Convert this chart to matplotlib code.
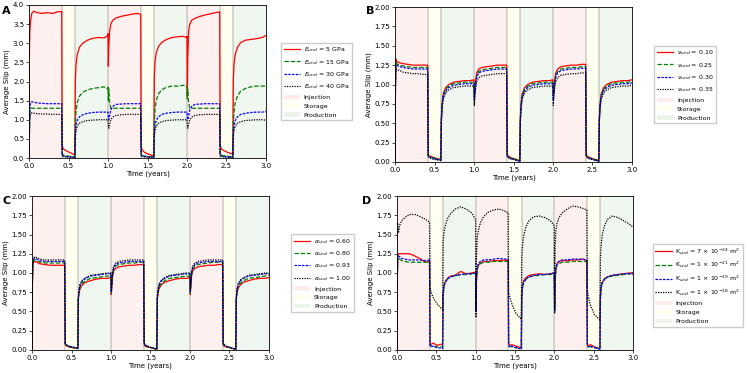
#!/usr/bin/env python3
"""
四个参数敏感性面板：平均滑移随时间变化
"""

import matplotlib
matplotlib.use("Agg")
import matplotlib.pyplot as plt
from matplotlib.patches import Patch

# 时间采样点 (years)
t = [0.000, 0.004, 0.010, 0.020, 0.035, 0.060, 0.100, 0.160, 0.230, 0.300, 0.360, 0.414,
     0.420, 0.430, 0.460, 0.510, 0.580,
     0.586, 0.595, 0.610, 0.640, 0.680, 0.740, 0.810, 0.880, 0.950, 0.996,
     1.000, 1.004, 1.010, 1.020, 1.035, 1.060, 1.100, 1.160, 1.230, 1.300, 1.360, 1.414,
     1.420, 1.430, 1.460, 1.510, 1.580,
     1.586, 1.595, 1.610, 1.640, 1.680, 1.740, 1.810, 1.880, 1.950, 1.996,
     2.000, 2.004, 2.010, 2.020, 2.035, 2.060, 2.100, 2.160, 2.230, 2.300, 2.360, 2.414,
     2.420, 2.430, 2.460, 2.510, 2.580,
     2.586, 2.595, 2.610, 2.640, 2.680, 2.740, 2.810, 2.880, 2.950, 2.996,
     3.000]

# 阶段边界
injection = [(0.0, 0.4167), (1.0, 1.4167), (2.0, 2.4167)]
storage = [(0.4167, 0.5833), (1.4167, 1.5833), (2.4167, 2.5833)]
production = [(0.5833, 1.0), (1.5833, 2.0), (2.5833, 3.0)]
boundaries = [0.4167, 0.5833, 1.0, 1.4167, 1.5833, 2.0, 2.4167, 2.5833]

# A: E_und
e5 = [0.0, 2.6, 3.3, 3.6, 3.78, 3.84, 3.80, 3.78, 3.80, 3.78, 3.82, 3.83,
      0.35, 0.25, 0.20, 0.15, 0.08,
      2.0, 2.45, 2.7, 2.9, 3.0, 3.08, 3.13, 3.15, 3.14, 3.2,
      3.25, 2.4, 2.9, 3.3, 3.5, 3.6, 3.66, 3.7, 3.73, 3.76, 3.78, 3.76,
      0.3, 0.22, 0.15, 0.1, 0.05,
      2.1, 2.5, 2.75, 2.92, 3.02, 3.1, 3.15, 3.17, 3.18, 3.15,
      3.18, 1.6, 2.6, 3.3, 3.5, 3.6, 3.65, 3.7, 3.74, 3.77, 3.8, 3.82,
      0.35, 0.25, 0.2, 0.15, 0.1,
      2.0, 2.45, 2.7, 2.9, 3.02, 3.08, 3.1, 3.12, 3.15, 3.2,
      3.2]
e15 = [0.0, 0.6, 1.2, 1.3, 1.3, 1.3, 1.3, 1.3, 1.3, 1.3, 1.3, 1.3,
       0.12, 0.08, 0.06, 0.05, 0.03,
       0.9, 1.2, 1.45, 1.62, 1.72, 1.78, 1.82, 1.84, 1.86, 1.8,
       1.85, 1.5, 1.8, 1.45, 1.3, 1.3, 1.3, 1.3, 1.3, 1.3, 1.3, 1.3,
       0.1, 0.07, 0.05, 0.04, 0.02,
       0.9, 1.25, 1.5, 1.68, 1.78, 1.85, 1.88, 1.88, 1.9, 1.88,
       1.85, 1.55, 1.8, 1.45, 1.3, 1.3, 1.3, 1.3, 1.3, 1.3, 1.3, 1.3,
       0.12, 0.08, 0.06, 0.05, 0.03,
       0.9, 1.2, 1.45, 1.62, 1.75, 1.82, 1.86, 1.88, 1.88, 1.88,
       1.88]
e30 = [0.0, 0.6, 1.3, 1.45, 1.47, 1.46, 1.44, 1.43, 1.42, 1.42, 1.42, 1.42,
       0.08, 0.06, 0.04, 0.03, 0.02,
       0.65, 0.85, 0.98, 1.08, 1.13, 1.17, 1.19, 1.2, 1.2, 1.2,
       1.2, 1.05, 1.0, 1.1, 1.25, 1.35, 1.4, 1.41, 1.42, 1.42, 1.42, 1.42,
       0.08, 0.06, 0.04, 0.03, 0.01,
       0.65, 0.85, 0.98, 1.08, 1.14, 1.17, 1.19, 1.2, 1.2, 1.2,
       1.2, 1.05, 1.0, 1.1, 1.25, 1.35, 1.4, 1.41, 1.42, 1.42, 1.42, 1.42,
       0.08, 0.06, 0.04, 0.03, 0.02,
       0.65, 0.85, 0.98, 1.08, 1.14, 1.17, 1.19, 1.2, 1.2, 1.21,
       1.21]
e40 = [0.0, 0.5, 1.05, 1.15, 1.18, 1.17, 1.16, 1.15, 1.15, 1.14, 1.14, 1.14,
       0.06, 0.04, 0.03, 0.02, 0.01,
       0.55, 0.72, 0.83, 0.91, 0.95, 0.98, 0.99, 1.0, 1.0, 1.0,
       1.0, 0.85, 0.78, 0.88, 1.0, 1.07, 1.11, 1.13, 1.14, 1.14, 1.14, 1.14,
       0.06, 0.04, 0.03, 0.02, 0.01,
       0.55, 0.72, 0.83, 0.91, 0.95, 0.98, 0.99, 1.0, 1.0, 1.0,
       1.0, 0.85, 0.78, 0.88, 1.0, 1.07, 1.11, 1.13, 1.14, 1.14, 1.14, 1.14,
       0.06, 0.04, 0.03, 0.02, 0.01,
       0.55, 0.72, 0.83, 0.91, 0.95, 0.98, 0.99, 1.0, 1.0, 0.99,
       0.99]

# B: nu_und
nu10 = [0.0, 0.9, 1.33, 1.3, 1.29, 1.28, 1.27, 1.26, 1.25, 1.25, 1.25, 1.25,
        0.1, 0.08, 0.07, 0.05, 0.03,
        0.55, 0.75, 0.88, 0.96, 1.0, 1.03, 1.04, 1.05, 1.05, 1.06,
        1.06, 0.88, 0.92, 1.05, 1.15, 1.2, 1.22, 1.23, 1.24, 1.25, 1.25, 1.25,
        0.1, 0.08, 0.06, 0.04, 0.02,
        0.55, 0.75, 0.88, 0.96, 1.0, 1.03, 1.04, 1.05, 1.05, 1.06,
        1.06, 0.86, 0.92, 1.05, 1.15, 1.2, 1.23, 1.24, 1.25, 1.25, 1.26, 1.26,
        0.1, 0.08, 0.06, 0.04, 0.02,
        0.55, 0.75, 0.88, 0.96, 1.0, 1.03, 1.04, 1.05, 1.05, 1.06,
        1.06]
nu25 = [0.0, 0.88, 1.29, 1.27, 1.26, 1.25, 1.24, 1.23, 1.22, 1.22, 1.22, 1.22,
        0.09, 0.08, 0.06, 0.05, 0.03,
        0.53, 0.73, 0.86, 0.94, 0.98, 1.01, 1.02, 1.03, 1.03, 1.03,
        1.03, 0.84, 0.9, 1.02, 1.12, 1.17, 1.19, 1.2, 1.21, 1.22, 1.22, 1.22,
        0.09, 0.07, 0.05, 0.04, 0.02,
        0.53, 0.73, 0.86, 0.94, 0.98, 1.01, 1.02, 1.03, 1.03, 1.03,
        1.03, 0.82, 0.9, 1.02, 1.12, 1.17, 1.2, 1.21, 1.22, 1.22, 1.23, 1.23,
        0.09, 0.07, 0.05, 0.04, 0.02,
        0.53, 0.73, 0.86, 0.94, 0.98, 1.01, 1.02, 1.03, 1.03, 1.04,
        1.04]
nu30 = [0.0, 0.85, 1.25, 1.25, 1.24, 1.23, 1.22, 1.21, 1.2, 1.2, 1.2, 1.2,
        0.08, 0.07, 0.05, 0.04, 0.02,
        0.52, 0.71, 0.84, 0.92, 0.96, 0.99, 1.0, 1.01, 1.01, 1.01,
        1.01, 0.8, 0.87, 1.0, 1.1, 1.15, 1.17, 1.18, 1.19, 1.2, 1.2, 1.2,
        0.08, 0.06, 0.05, 0.03, 0.01,
        0.52, 0.71, 0.84, 0.92, 0.96, 0.99, 1.0, 1.01, 1.01, 1.01,
        1.01, 0.79, 0.87, 1.0, 1.1, 1.15, 1.18, 1.19, 1.2, 1.2, 1.21, 1.21,
        0.08, 0.06, 0.05, 0.03, 0.01,
        0.52, 0.71, 0.84, 0.92, 0.96, 0.99, 1.0, 1.01, 1.01, 1.02,
        1.02]
nu35 = [0.0, 0.8, 1.19, 1.2, 1.19, 1.18, 1.16, 1.15, 1.14, 1.14, 1.13, 1.13,
        0.07, 0.06, 0.04, 0.03, 0.02,
        0.5, 0.68, 0.81, 0.89, 0.93, 0.96, 0.97, 0.98, 0.98, 0.98,
        0.98, 0.73, 0.82, 0.95, 1.04, 1.09, 1.11, 1.12, 1.13, 1.14, 1.14, 1.14,
        0.07, 0.06, 0.04, 0.03, 0.01,
        0.5, 0.68, 0.81, 0.89, 0.93, 0.96, 0.97, 0.98, 0.98, 0.98,
        0.98, 0.73, 0.82, 0.95, 1.04, 1.09, 1.12, 1.13, 1.14, 1.14, 1.15, 1.15,
        0.07, 0.06, 0.04, 0.03, 0.01,
        0.5, 0.68, 0.81, 0.89, 0.93, 0.96, 0.97, 0.98, 0.98, 0.99,
        0.99]

# C: alpha_und
a60 = [0.0, 0.8, 1.1, 1.14, 1.15, 1.14, 1.12, 1.11, 1.1, 1.1, 1.1, 1.1,
       0.07, 0.06, 0.04, 0.03, 0.02,
       0.65, 0.74, 0.8, 0.85, 0.88, 0.9, 0.92, 0.93, 0.93, 0.94,
       0.94, 0.72, 0.82, 0.96, 1.03, 1.06, 1.08, 1.09, 1.1, 1.1, 1.11, 1.11,
       0.07, 0.05, 0.04, 0.03, 0.01,
       0.65, 0.74, 0.8, 0.85, 0.88, 0.9, 0.92, 0.93, 0.93, 0.94,
       0.94, 0.72, 0.82, 0.96, 1.03, 1.06, 1.08, 1.09, 1.1, 1.1, 1.11, 1.11,
       0.07, 0.05, 0.04, 0.03, 0.01,
       0.65, 0.74, 0.8, 0.85, 0.88, 0.9, 0.92, 0.93, 0.93, 0.94,
       0.94]
a80 = [0.0, 0.82, 1.12, 1.16, 1.17, 1.16, 1.14, 1.13, 1.13, 1.13, 1.13, 1.13,
       0.08, 0.06, 0.05, 0.03, 0.02,
       0.66, 0.76, 0.82, 0.87, 0.9, 0.93, 0.94, 0.95, 0.96, 0.96,
       0.96, 0.74, 0.84, 0.98, 1.05, 1.09, 1.11, 1.12, 1.13, 1.13, 1.14, 1.14,
       0.08, 0.06, 0.04, 0.03, 0.01,
       0.66, 0.76, 0.82, 0.87, 0.9, 0.93, 0.94, 0.95, 0.96, 0.96,
       0.96, 0.74, 0.84, 0.98, 1.05, 1.09, 1.11, 1.12, 1.13, 1.14, 1.14, 1.14,
       0.08, 0.06, 0.04, 0.03, 0.01,
       0.66, 0.76, 0.82, 0.87, 0.9, 0.93, 0.94, 0.95, 0.96, 0.97,
       0.97]
a93 = [0.0, 0.84, 1.14, 1.18, 1.19, 1.18, 1.16, 1.15, 1.15, 1.15, 1.15, 1.15,
       0.09, 0.07, 0.05, 0.04, 0.02,
       0.67, 0.78, 0.85, 0.9, 0.93, 0.96, 0.97, 0.98, 0.99, 0.99,
       0.99, 0.76, 0.86, 1.0, 1.07, 1.11, 1.13, 1.14, 1.15, 1.15, 1.15, 1.15,
       0.09, 0.07, 0.05, 0.03, 0.01,
       0.67, 0.78, 0.85, 0.9, 0.93, 0.96, 0.97, 0.98, 0.99, 0.99,
       0.99, 0.76, 0.86, 1.0, 1.07, 1.11, 1.13, 1.14, 1.15, 1.15, 1.15, 1.15,
       0.09, 0.07, 0.05, 0.03, 0.01,
       0.67, 0.78, 0.85, 0.9, 0.93, 0.96, 0.97, 0.98, 0.99, 0.99,
       0.99]
a100 = [0.0, 0.86, 1.16, 1.2, 1.21, 1.2, 1.18, 1.17, 1.17, 1.17, 1.17, 1.17,
        0.09, 0.07, 0.05, 0.04, 0.02,
        0.68, 0.79, 0.86, 0.91, 0.94, 0.97, 0.98, 0.99, 1.0, 1.0,
        1.0, 0.78, 0.88, 1.02, 1.09, 1.13, 1.15, 1.16, 1.17, 1.17, 1.17, 1.17,
        0.09, 0.07, 0.05, 0.03, 0.01,
        0.68, 0.79, 0.86, 0.91, 0.94, 0.97, 0.98, 0.99, 1.0, 1.0,
        1.0, 0.78, 0.88, 1.02, 1.09, 1.13, 1.15, 1.16, 1.17, 1.17, 1.17, 1.17,
        0.09, 0.07, 0.05, 0.03, 0.01,
        0.68, 0.79, 0.86, 0.91, 0.94, 0.97, 0.98, 0.99, 1.0, 1.0,
        1.0]

# D: K_und
k24 = [0.0, 0.9, 1.22, 1.25, 1.25, 1.25, 1.25, 1.25, 1.22, 1.18, 1.14, 1.15,
       0.1, 0.07, 0.09, 0.06, 0.08,
       0.7, 0.82, 0.88, 0.93, 0.96, 0.97, 1.02, 0.99, 1.0, 1.01,
       1.0, 0.55, 0.9, 1.05, 1.1, 1.13, 1.15, 1.15, 1.16, 1.16, 1.17, 1.16,
       0.08, 0.06, 0.07, 0.05, 0.03,
       0.7, 0.82, 0.9, 0.94, 0.97, 0.98, 0.99, 0.98, 0.99, 1.0,
       1.0, 0.55, 0.9, 1.05, 1.12, 1.15, 1.16, 1.16, 1.17, 1.17, 1.18, 1.16,
       0.08, 0.05, 0.07, 0.04, 0.02,
       0.7, 0.82, 0.88, 0.93, 0.95, 0.97, 0.98, 0.99, 1.0, 1.0,
       0.98]
k21 = [0.0, 0.9, 1.18, 1.2, 1.18, 1.16, 1.15, 1.14, 1.14, 1.14, 1.14, 1.14,
       0.06, 0.05, 0.05, 0.04, 0.04,
       0.68, 0.82, 0.88, 0.92, 0.95, 0.96, 0.98, 0.98, 0.99, 1.0,
       1.0, 0.5, 0.9, 1.05, 1.1, 1.12, 1.14, 1.14, 1.15, 1.15, 1.15, 1.15,
       0.06, 0.05, 0.04, 0.03, 0.02,
       0.68, 0.82, 0.88, 0.92, 0.95, 0.96, 0.97, 0.98, 0.98, 0.99,
       0.99, 0.5, 0.9, 1.05, 1.1, 1.12, 1.14, 1.14, 1.15, 1.15, 1.15, 1.15,
       0.06, 0.05, 0.04, 0.03, 0.02,
       0.68, 0.82, 0.88, 0.92, 0.95, 0.96, 0.97, 0.98, 0.99, 0.99,
       0.99]
k19 = [0.0, 0.9, 1.2, 1.22, 1.21, 1.19, 1.18, 1.17, 1.17, 1.17, 1.16, 1.17,
       0.07, 0.04, 0.05, 0.03, 0.02,
       0.65, 0.8, 0.87, 0.92, 0.95, 0.97, 0.98, 0.99, 0.99, 1.0,
       1.0, 0.5, 0.9, 1.06, 1.12, 1.15, 1.17, 1.17, 1.18, 1.19, 1.18, 1.18,
       0.07, 0.04, 0.05, 0.03, 0.01,
       0.65, 0.8, 0.87, 0.92, 0.95, 0.97, 0.98, 0.98, 0.99, 1.0,
       1.0, 0.5, 0.9, 1.06, 1.12, 1.15, 1.17, 1.17, 1.18, 1.18, 1.18, 1.17,
       0.07, 0.04, 0.05, 0.03, 0.01,
       0.65, 0.8, 0.87, 0.92, 0.95, 0.97, 0.98, 0.99, 0.99, 1.0,
       1.0]
k18 = [0.0, 1.6, 1.65, 1.52, 1.62, 1.68, 1.72, 1.76, 1.76, 1.73, 1.7, 1.66,
       0.82, 0.76, 0.68, 0.6, 0.52,
       1.4, 1.5, 1.6, 1.7, 1.77, 1.83, 1.86, 1.83, 1.78, 1.7,
       1.68, 0.42, 1.2, 1.45, 1.55, 1.65, 1.73, 1.79, 1.82, 1.83, 1.81, 1.78,
       0.75, 0.7, 0.6, 0.48, 0.4,
       1.2, 1.35, 1.48, 1.6, 1.68, 1.73, 1.74, 1.72, 1.68, 1.62,
       1.6, 0.48, 1.3, 1.55, 1.65, 1.72, 1.78, 1.83, 1.87, 1.86, 1.84, 1.82,
       0.78, 0.7, 0.58, 0.46, 0.39,
       1.2, 1.35, 1.5, 1.62, 1.7, 1.74, 1.72, 1.68, 1.64, 1.6,
       1.6]

panels = [
    ("A", [e5, e15, e30, e40],
     [r"$E_{und}$ = 5 GPa", r"$E_{und}$ = 15 GPa", r"$E_{und}$ = 30 GPa", r"$E_{und}$ = 40 GPa"],
     4.0, 0.5, "%.1f"),
    ("B", [nu10, nu25, nu30, nu35],
     [r"$\nu_{und}$ = 0.10", r"$\nu_{und}$ = 0.25", r"$\nu_{und}$ = 0.30", r"$\nu_{und}$ = 0.35"],
     2.0, 0.25, "%.2f"),
    ("C", [a60, a80, a93, a100],
     [r"$\alpha_{und}$ = 0.60", r"$\alpha_{und}$ = 0.80", r"$\alpha_{und}$ = 0.93", r"$\alpha_{und}$ = 1.00"],
     2.0, 0.25, "%.2f"),
    ("D", [k24, k21, k19, k18],
     [r"K$_{und}$ = 7 × 10$^{-24}$ m$^2$", r"K$_{und}$ = 1 × 10$^{-21}$ m$^2$",
      r"K$_{und}$ = 1 × 10$^{-19}$ m$^2$", r"K$_{und}$ = 1 × 10$^{-18}$ m$^2$"],
     2.0, 0.25, "%.2f"),
]

# 画布位置 (figure fraction)
AX_POS = {
    "A": [0.0388, 0.5764, 0.3168, 0.4102],
    "B": [0.5281, 0.5657, 0.3168, 0.4155],
    "C": [0.0428, 0.0617, 0.3168, 0.4128],
    "D": [0.5307, 0.0617, 0.3155, 0.4128],
}
LEG_POS = {"A": (1.05, 0.5), "B": (1.08, 0.5), "C": (1.08, 0.5), "D": (1.07, 0.42)}
LETTER_POS = {"A": (0.003, 0.985), "B": (0.489, 0.985), "C": (0.003, 0.475), "D": (0.484, 0.475)}

STYLES = [
    dict(color="red", ls="-"),
    dict(color="green", ls=(0, (3.5, 1.5))),
    dict(color="blue", ls=(0, (2, 1))),
    dict(color="black", ls=(0, (1, 1))),
]

SPAN_INJ = dict(color="red", alpha=0.06)
SPAN_STO = dict(color="yellow", alpha=0.06)
SPAN_PRO = dict(color="green", alpha=0.06)

FS = 5
LEG_FS = 4.5


def main():
    plt.rcParams["font.family"] = ["DejaVu Sans"]
    fig = plt.figure(figsize=(7.48, 3.73), dpi=100)

    for letter, series, labels, ymax, ystep, fmt in panels:
        ax = fig.add_axes(AX_POS[letter])
        for a, b in injection:
            ax.axvspan(a, b, lw=0, **SPAN_INJ)
        for a, b in storage:
            ax.axvspan(a, b, lw=0, **SPAN_STO)
        for a, b in production:
            ax.axvspan(a, b, lw=0, **SPAN_PRO)
        for x in boundaries:
            ax.axvline(x, color="gray", alpha=0.35, lw=1.2)

        handles = []
        for ys, lab, st in zip(series, labels, STYLES):
            h, = ax.plot(t, ys, lw=0.9, label=lab, **st)
            handles.append(h)
        handles += [Patch(facecolor="red", alpha=0.08, label="Injection"),
                    Patch(facecolor="yellow", alpha=0.08, label="Storage"),
                    Patch(facecolor="green", alpha=0.08, label="Production")]

        ax.set_xlim(0, 3.0)
        ax.set_ylim(0, ymax)
        ax.set_xticks([0.0, 0.5, 1.0, 1.5, 2.0, 2.5, 3.0])
        nt = int(round(ymax / ystep))
        ax.set_yticks([i * ystep for i in range(nt + 1)])
        ax.yaxis.set_major_formatter(matplotlib.ticker.FormatStrFormatter(fmt))
        ax.xaxis.set_major_formatter(matplotlib.ticker.FormatStrFormatter("%.1f"))
        ax.tick_params(labelsize=FS, length=2, width=0.5, pad=1.5)
        for s in ax.spines.values():
            s.set_linewidth(0.6)
        ax.set_xlabel("Time (years)", fontsize=FS, labelpad=1)
        ax.set_ylabel("Average Slip (mm)", fontsize=FS, labelpad=2)

        ax.legend(handles=handles, loc="center left", bbox_to_anchor=LEG_POS[letter],
                  fontsize=LEG_FS, handlelength=2.6, handletextpad=0.6, framealpha=1,
                  edgecolor="0.8", borderpad=0.45, labelspacing=0.55, fancybox=False)

        lx, ly = LETTER_POS[letter]
        fig.text(lx, ly, letter, fontsize=8, fontweight="bold", va="top", ha="left")

    fig.savefig("out.png", dpi=100)
    plt.close(fig)


if __name__ == "__main__":
    main()
